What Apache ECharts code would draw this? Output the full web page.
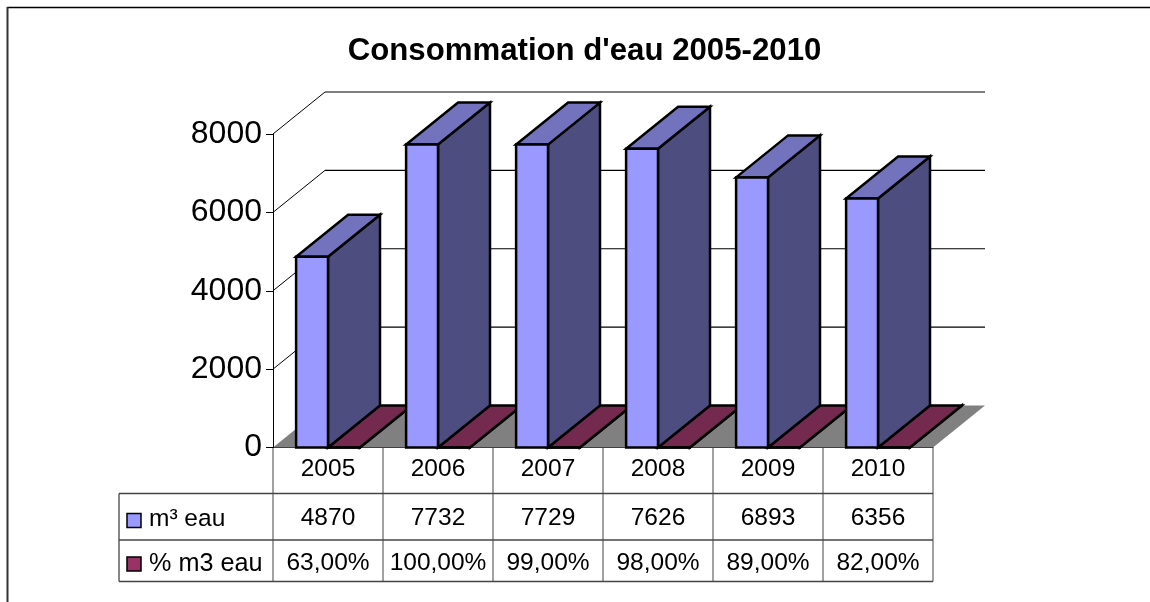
<!DOCTYPE html>
<html><head><meta charset="utf-8">
<script src="https://cdn.jsdelivr.net/npm/echarts@6/dist/echarts.min.js"></script>
<style>html,body{margin:0;padding:0;background:#fff}#c{width:1150px;height:602px}</style>
</head><body><div id="c"></div>
<script>
const categories = ['2005','2006','2007','2008','2009','2010'];
const waterM3 = [4870,7732,7729,7626,6893,6356];
const waterPct = [63,100,99,98,89,82];
const pctLabels = ['63,00%','100,00%','99,00%','98,00%','89,00%','82,00%'];
const yTicks = [0,2000,4000,6000,8000];
const seriesNames = ['m³ eau','% m3 eau'];
const chartTitle = "Consommation d'eau 2005-2010";

const DX = 52, DY = 42, BAR = 0.29;
const FONT = '24.5px "Liberation Sans"';
const COL = {
  blue:{front:'#9999ff',top:'#7373bd',side:'#4d4d7f'},
  maroon:{front:'#993366',top:'#732a4e',side:'#4d1a33'},
  key2:'#993366', floor:'#808080', table:'#444444'
};
const poly = (pts, fill, lw) => ({type:'polygon',shape:{points:pts},style:{fill,stroke:lw?'#000':null,lineWidth:lw||0,lineJoin:'miter'}});
const line = (x1,y1,x2,y2,stroke,w) => ({type:'line',shape:{x1,y1,x2,y2},style:{stroke,lineWidth:w||1}});

function barRenderer(c, offset){
  return function(params, api){
    const i = api.value(0), top = api.coord([i, api.value(1)]), base = api.coord([i,0]);
    const band = api.size([1,0])[0], w = band*BAR;
    const x0 = base[0] + offset*w, x1 = x0 + w, yb = base[1], yt = top[1];
    return {type:'group',children:[
      poly([[x1,yb],[x1+DX,yb-DY],[x1+DX,yt-DY],[x1,yt]], c.side, 2.5),
      poly([[x0,yt],[x1,yt],[x1+DX,yt-DY],[x0+DX,yt-DY]], c.top, 2.5),
      poly([[x0,yb],[x1,yb],[x1,yt],[x0,yt]], c.front, 2.5)
    ]};
  };
}
function wallRenderer(params, api){
  const v = api.value(1), p = api.coord([0,v]), band = api.size([1,0])[0];
  const l = p[0]-band/2, r = l+band*categories.length, y = p[1];
  if (v === 0) return poly([[l,y],[r,y],[r+DX,y-DY],[l+DX,y-DY]], COL.floor, 0);
  return {type:'group',children:[
    line(l,y,l+DX,y-DY,'#000',1),
    line(l+DX,y-DY,r+DX,y-DY,'#000',1.2)
  ]};
}
function tableRenderer(params, api){
  const i = api.value(0), p = api.coord([i,0]), band = api.size([1,0])[0];
  const l = p[0]-band/2, r = l+band, y0 = p[1];
  const r1 = y0+46, r2 = y0+92.5, r3 = y0+134;
  const txt = (x,y,text,align,font) => ({type:'text',style:{x,y,text,font:font||FONT,fill:'#000',align:align||'center',verticalAlign:'middle'}});
  const kids = [
    line(r,y0,r,r3,COL.table,1),
    line(l,r1,r,r1,COL.table,1.3), line(l,r2,r,r2,COL.table,1.3), line(l,r3,r,r3,COL.table,1.3),
    txt(p[0],(r1+r2)/2+1.5,String(waterM3[i])),
    txt(p[0],(r2+r3)/2+2,pctLabels[i])
  ];
  if (i === 0) {
    const hl = l-154;
    kids.push(
      line(l,y0,l,r3,COL.table,1), line(hl,r1,hl,r3,COL.table,1.3),
      line(hl,r1,l,r1,COL.table,1.3), line(hl,r2,l,r2,COL.table,1.3), line(hl,r3,l,r3,COL.table,1.3),
      {type:'rect',shape:{x:hl+8,y:r1+20,width:14,height:14},style:{fill:COL.blue.front,stroke:'#000',lineWidth:1.5}},
      {type:'rect',shape:{x:hl+8,y:r2+17,width:14,height:14},style:{fill:COL.key2,stroke:'#000',lineWidth:1.5}},
      txt(hl+30,(r1+r2)/2+2.5,seriesNames[0],'left'),
      txt(hl+30,(r2+r3)/2+3,seriesNames[1],'left','25.2px "Liberation Sans"')
    );
  }
  return {type:'group',children:kids};
}

const chart = echarts.init(document.getElementById('c'),null,{renderer:'canvas'});
chart.setOption({
  animation:false,
  backgroundColor:'#fff',
  title:{text:chartTitle,left:579.5,top:31,textAlign:'center',textStyle:{fontFamily:'Liberation Sans',fontWeight:'bold',fontSize:31.2,color:'#000'}},
  grid:{left:273,right:217,top:134,bottom:154.5},
  graphic:[
    {type:'line',silent:true,shape:{x1:7,y1:7.5,x2:1150,y2:7.5},style:{stroke:'#000',lineWidth:1.5}},
    {type:'line',silent:true,shape:{x1:7.5,y1:7,x2:7.5,y2:602},style:{stroke:'#333',lineWidth:2}}
  ],
  xAxis:{type:'category',data:categories,axisLine:{lineStyle:{color:'#000',width:1}},axisTick:{show:false},
    axisLabel:{fontFamily:'Liberation Sans',fontSize:24.5,color:'#000',margin:9,interval:0},splitLine:{show:false}},
  yAxis:{type:'value',min:0,max:8000,interval:2000,z:5,
    axisLine:{show:true,lineStyle:{color:'#000',width:1}},axisTick:{show:true,length:7,lineStyle:{color:'#000'}},
    axisLabel:{fontFamily:'Liberation Sans',fontSize:32,color:'#000',margin:11,formatter:v=>String(v)},splitLine:{show:false}},
  series:[
    {type:'custom',name:'walls',z:1,silent:true,clip:false,data:yTicks.map(v=>[0,v]),encode:{x:0,y:1},renderItem:wallRenderer},
    {type:'custom',name:seriesNames[1],z:2,silent:true,clip:false,data:waterPct.map((v,i)=>[i,v/100]),encode:{x:0,y:1},renderItem:barRenderer(COL.maroon,0)},
    {type:'custom',name:seriesNames[0],z:3,silent:true,clip:false,data:waterM3.map((v,i)=>[i,v]),encode:{x:0,y:1},renderItem:barRenderer(COL.blue,-1)},
    {type:'custom',name:'table',z:4,silent:true,clip:false,data:categories.map((c,i)=>[i,0]),encode:{x:0,y:1},renderItem:tableRenderer}
  ]
});
</script></body></html>
